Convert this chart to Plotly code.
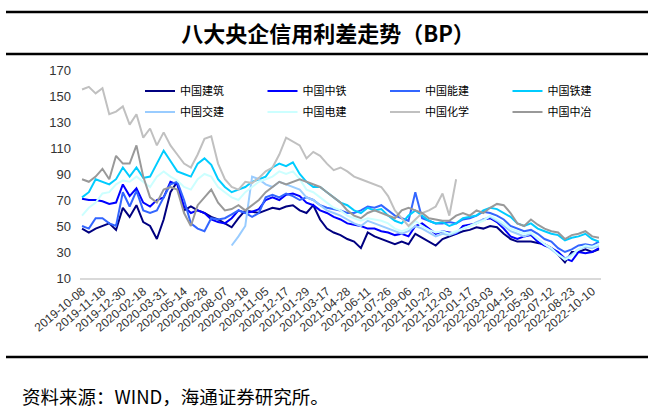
import pandas as pd
import plotly.graph_objects as go

# x-axis tick labels (one every 30 trading days)
TICK_DATES = ['2019-10-08', '2019-11-18', '2019-12-30', '2020-02-18', '2020-03-31',
              '2020-05-14', '2020-06-28', '2020-08-07', '2020-09-18', '2020-11-05',
              '2020-12-17', '2021-01-29', '2021-03-17', '2021-04-28', '2021-06-11',
              '2021-07-26', '2021-09-06', '2021-10-22', '2021-12-03', '2022-01-17',
              '2022-03-03', '2022-04-15', '2022-05-30', '2022-07-12', '2022-08-23',
              '2022-10-10']

# sample points: every 10 trading days between ticks
SAMPLE_DATES = []
for d in TICK_DATES[:-1]:
    t = pd.Timestamp(d)
    SAMPLE_DATES += [d,
                     (t + pd.offsets.BDay(10)).strftime('%Y-%m-%d'),
                     (t + pd.offsets.BDay(20)).strftime('%Y-%m-%d')]
SAMPLE_DATES += [TICK_DATES[-1],
                 (pd.Timestamp(TICK_DATES[-1]) + pd.offsets.BDay(10)).strftime('%Y-%m-%d')]

# credit spreads (BP)
jianzhu = [48, 45, 48, 50, 52, 47, 64, 57, 66, 53,
           50, 40, 55, 76, 84, 62, 65, 62, 60, 57,
           55, 52, 49, 56, 62, 61, 60, 62, 64, 63,
           65, 66, 62, 60, 66, 55, 48, 45, 43, 40,
           38, 33, 45, 42, 40, 38, 36, 38, 36, 44,
           41, 38, 35, 40, 42, 44, 46, 47, 49, 48,
           50, 49, 44, 40, 38, 38, 38, 37, 36, 33,
           28, 22, 30, 30, 32, 30, 32]
zhongtie = [71, 70, 70, 69, 67, 68, 82, 73, 79, 68,
            65, 70, 72, 84, 82, 65, 60, 62, 60, 55,
            53, 52, 56, 62, 60, 61, 63, 70, 72, 70,
            74, 75, 73, 68, 66, 62, 60, 57, 55, 52,
            51, 50, 48, 48, 46, 45, 43, 44, 42, 50,
            52, 48, 44, 46, 45, 44, 50, 51, 52, 55,
            56, 53, 48, 42, 40, 42, 43, 38, 35, 33,
            30, 25, 23, 30, 29, 30, 33]
nengjian = [50, 48, 56, 56, 52, 50, 76, 65, 77, 62,
            60, 62, 72, 82, 84, 70, 52, 48, 46, 56,
            55, 56, 59, 62, 60, 57, 60, 72, 74, 72,
            75, 73, 70, 72, 70, 66, 64, 63, 62, 60,
            60, 62, 65, 64, 66, 62, 58, 56, 54, 76,
            56, 54, 52, 52, 53, 52, 55, 56, 58, 61,
            60, 58, 55, 50, 48, 46, 47, 44, 40, 38,
            33, 30, 32, 35, 36, 35, 38]
tiejian = [72, 76, 86, 84, 82, 86, 95, 88, 95, 87,
           88, 98, 108, 100, 92, 90, 88, 98, 102, 97,
           86, 80, 76, 78, 80, 84, 86, 88, 95, 98,
           96, 99, 90, 84, 80, 80, 76, 72, 68, 66,
           62, 60, 64, 62, 63, 58, 54, 52, 58, 62,
           58, 54, 52, 53, 50, 52, 56, 57, 58, 62,
           64, 63, 60, 57, 52, 50, 52, 48, 46, 44,
           43, 39, 41, 42, 44, 40, 38]
jiaojian = [None] * 22 + [
            35, 42, 50, 88, 86, 82, 80, 84,
            82, 80, 78, 72, 70, 66, 62, 60, 58, 55,
            52, 50, 54, 52, 50, 48, 46, 44, 46, 50,
            48, 45, 42, 44, 43, 45, 48, 50, 53, 55,
            57, 54, 50, 46, 44, 42, 44, 40, 36, 32,
            28, 25, 28, 32, 34, 33, 35]
dianjian = [58, 64, 68, 75, 76, 82, 85, 84, 88, 84,
            80, 88, 92, 88, 85, 80, 78, 86, 90, 88,
            80, 76, 72, 70, 76, 80, 84, 86, 88, 92,
            90, 92, 86, 78, 76, 72, 68, 64, 62, 58,
            56, 54, 56, 55, 54, 52, 48, 46, 48, 54,
            50, 47, 45, 46, 44, 46, 48, 50, 52, 54,
            58, 55, 52, 48, 46, 44, 45, 40, 36, 33,
            28, 24, 27, 32, 35, 34, 36]
huaxue = [155, 157, 152, 156, 136, 138, 142, 128, 136, 118,
          125, 112, 122, 112, 105, 98, 95, 105, 117, 119,
          98, 86, 80, 78, 84, 83, 87, 92, 95, 105,
          118, 115, 112, 102, 107, 104, 98, 93, 95, 92,
          88, 86, 84, 82, 80, 73, 62, 56, 50, 55,
          60, 62, 65, 75, 58, 86] + [None] * 21
zhongye = [86, 84, 88, 94, 86, 104, 98, 98, 112, 88,
           72, 68, 78, 80, 78, 60, 50, 66, 72, 78,
           68, 62, 63, 66, 62, 66, 70, 76, 80, 84,
           82, 84, 86, 84, 82, 80, 76, 72, 68, 62,
           58, 56, 60, 62, 60, 58, 56, 62, 64, 62,
           60, 56, 55, 54, 54, 58, 60, 58, 62, 60,
           64, 67, 66, 60, 52, 50, 55, 51, 48, 46,
           45, 40, 43, 44, 46, 42, 41]

SERIES = [
    ('中国建筑', jianzhu, '#000080'),
    ('中国中铁', zhongtie, '#0000FF'),
    ('中国能建', nengjian, '#3366FF'),
    ('中国铁建', tiejian, '#00CCFF'),
    ('中国交建', jiaojian, '#99CCFF'),
    ('中国电建', dianjian, '#CCFFFF'),
    ('中国化学', huaxue, '#C0C0C0'),
    ('中国中冶', zhongye, '#999999'),
]

CJK = 'Noto Sans CJK SC'

# plot area: x 80..601, y 70..278 (px)
L, R, T, B = 80, 51, 70, 134
W, H = 652, 412
pw, ph = W - L - R, H - T - B


def px(x):
    return (x - L) / pw


def py(y):
    return (H - B - y) / ph


fig = go.Figure()
legends = {}
for i, (name, vals, color) in enumerate(SERIES):
    key = 'legend' if i == 0 else f'legend{i + 1}'
    fig.add_trace(go.Scatter(x=SAMPLE_DATES, y=vals, name=name, mode='lines',
                             line=dict(color=color, width=2), connectgaps=False,
                             legend=key))
    # one legend per entry: 4 columns x 2 rows
    col, row = i % 4, i // 4
    legends[key] = dict(x=px(140 + col * 122.5), xanchor='left',
                        y=py(91 + row * 21), yanchor='middle',
                        font=dict(family=CJK, size=11, color='black'),
                        bgcolor='rgba(0,0,0,0)', borderwidth=0)

fig.update_layout(
    width=W, height=H, autosize=False,
    margin=dict(l=L, r=R, t=T, b=B),
    paper_bgcolor='white', plot_bgcolor='white',
    font=dict(family='Liberation Sans, Arial', color='#333333'),
    title=dict(text='<b>八大央企信用利差走势（BP）</b>', x=328 / W, xanchor='center',
               y=1 - 34 / H, yanchor='middle',
               font=dict(family=CJK, size=22, color='black')),
    showlegend=True,
    **legends,
)

fig.update_xaxes(type='category', range=[-0.3, len(SAMPLE_DATES) - 0.7],
                 tickmode='array', tickvals=TICK_DATES, ticktext=TICK_DATES,
                 tickangle=-40, tickfont=dict(size=12, color='#333333'),
                 showgrid=False, zeroline=False, ticks='',
                 showline=True, linecolor='#D9D9D9', linewidth=1.5)
fig.update_yaxes(range=[10, 170], dtick=20, tick0=10, showgrid=False, zeroline=False,
                 ticks='', showline=False, tickfont=dict(size=13, color='#333333'),
                 ticklabelstandoff=8)

# horizontal rules
for y, w in [(12, 2.5), (54, 2.5), (357, 2.5)]:
    fig.add_shape(type='line', xref='paper', yref='paper',
                  x0=px(6), x1=px(648), y0=py(y), y1=py(y),
                  line=dict(color='black', width=w))

fig.add_annotation(text='资料来源：WIND，海通证券研究所。', xref='paper', yref='paper',
                   x=px(20), y=py(396), xanchor='left', yanchor='middle', showarrow=False,
                   font=dict(family=CJK, size=18.5, color='black'))

fig.write_html('out.html', config={'displayModeBar': False},
               post_script="document.body.style.margin='0';")
